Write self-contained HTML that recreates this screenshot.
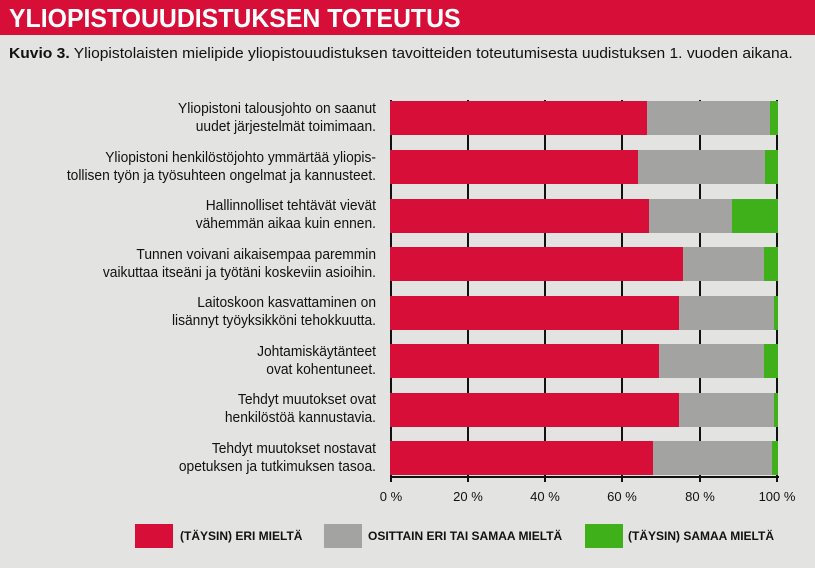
<!DOCTYPE html>
<html><head><meta charset="utf-8"><style>
*{margin:0;padding:0;box-sizing:border-box}
body{width:815px;height:568px;background:#e3e3e2;position:relative;overflow:hidden;font-family:"Liberation Sans",sans-serif;color:#111}
.t{position:absolute;left:0;top:0;width:815px;height:35px;background:#d60e38}
.tt{position:absolute;left:9px;top:0;color:#fff;font-weight:bold;font-size:26px;line-height:36px;white-space:nowrap;transform:scaleX(0.955);transform-origin:left}
.sub{position:absolute;left:9px;top:45px;font-size:15px;white-space:nowrap;transform:scaleX(1.04);transform-origin:left}
.lab{position:absolute;right:439px;width:500px;text-align:right;font-size:15px;line-height:18px;white-space:nowrap;transform:scaleX(0.92);transform-origin:right}
.g{position:absolute;top:100px;height:377px;width:2px;background:#111}
.bar{position:absolute;height:34px;left:390px}
.bar div{position:absolute;top:0;height:34px}
.r{background:#d60e38}.gr{background:#a3a3a2}.gn{background:#40b01a}
.ax{position:absolute;left:390px;top:476px;width:389px;height:2px;background:#111}
.tk{position:absolute;top:476px;width:2px;height:6px;background:#111}
.tl{position:absolute;top:489px;font-size:13px;width:60px;text-align:center}
.lg{position:absolute;top:524px;width:38px;height:24px}
.lt{position:absolute;top:529px;font-weight:bold;font-size:12px;white-space:nowrap}
</style></head><body>
<div class="t"><div class="tt">YLIOPISTOUUDISTUKSEN TOTEUTUS</div></div>
<div class="sub"><b>Kuvio 3.</b> Yliopistolaisten mielipide yliopistouudistuksen tavoitteiden toteutumisesta uudistuksen 1. vuoden aikana.</div>

<div class="g" style="left:390px"></div><div class="g" style="left:467px"></div><div class="g" style="left:544px"></div><div class="g" style="left:621px"></div><div class="g" style="left:699px"></div><div class="g" style="left:776px"></div>

<div class="lab" style="top:100px">Yliopistoni talousjohto on saanut<br>uudet järjestelmät toimimaan.</div>
<div class="lab" style="top:149px">Yliopistoni henkilöstöjohto ymmärtää yliopis-<br>tollisen työn ja työsuhteen ongelmat ja kannusteet.</div>
<div class="lab" style="top:197px">Hallinnolliset tehtävät vievät<br>vähemmän aikaa kuin ennen.</div>
<div class="lab" style="top:246px">Tunnen voivani aikaisempaa paremmin<br>vaikuttaa itseäni ja työtäni koskeviin asioihin.</div>
<div class="lab" style="top:294px">Laitoskoon kasvattaminen on<br>lisännyt työyksikköni tehokkuutta.</div>
<div class="lab" style="top:343px">Johtamiskäytänteet<br>ovat kohentuneet.</div>
<div class="lab" style="top:391px">Tehdyt muutokset ovat<br>henkilöstöä kannustavia.</div>
<div class="lab" style="top:440px">Tehdyt muutokset nostavat<br>opetuksen ja tutkimuksen tasoa.</div>

<div class="bar" style="top:101px"><div class="r" style="left:0;width:257px"></div><div class="gr" style="left:257px;width:123px"></div><div class="gn" style="left:380px;width:8px"></div></div>
<div class="bar" style="top:150px"><div class="r" style="left:0;width:248px"></div><div class="gr" style="left:248px;width:127px"></div><div class="gn" style="left:375px;width:13px"></div></div>
<div class="bar" style="top:199px"><div class="r" style="left:0;width:259px"></div><div class="gr" style="left:259px;width:83px"></div><div class="gn" style="left:342px;width:46px"></div></div>
<div class="bar" style="top:247px"><div class="r" style="left:0;width:293px"></div><div class="gr" style="left:293px;width:81px"></div><div class="gn" style="left:374px;width:14px"></div></div>
<div class="bar" style="top:296px"><div class="r" style="left:0;width:289px"></div><div class="gr" style="left:289px;width:95px"></div><div class="gn" style="left:384px;width:4px"></div></div>
<div class="bar" style="top:344px"><div class="r" style="left:0;width:269px"></div><div class="gr" style="left:269px;width:105px"></div><div class="gn" style="left:374px;width:14px"></div></div>
<div class="bar" style="top:393px"><div class="r" style="left:0;width:289px"></div><div class="gr" style="left:289px;width:95px"></div><div class="gn" style="left:384px;width:4px"></div></div>
<div class="bar" style="top:441px"><div class="r" style="left:0;width:263px"></div><div class="gr" style="left:263px;width:119px"></div><div class="gn" style="left:382px;width:6px"></div></div>

<div class="ax"></div>
<div class="tk" style="left:390px"></div><div class="tk" style="left:467px"></div><div class="tk" style="left:544px"></div><div class="tk" style="left:621px"></div><div class="tk" style="left:699px"></div><div class="tk" style="left:776px"></div>
<div class="tl" style="left:361px">0 %</div><div class="tl" style="left:438px">20 %</div><div class="tl" style="left:515px">40 %</div><div class="tl" style="left:592px">60 %</div><div class="tl" style="left:670px">80 %</div><div class="tl" style="left:747px">100 %</div>

<div class="lg r" style="left:135px"></div><div class="lt" style="left:180px">(TÄYSIN) ERI MIELTÄ</div>
<div class="lg gr" style="left:324px"></div><div class="lt" style="left:368px">OSITTAIN ERI TAI SAMAA MIELTÄ</div>
<div class="lg gn" style="left:585px"></div><div class="lt" style="left:628px">(TÄYSIN) SAMAA MIELTÄ</div>
</body></html>
